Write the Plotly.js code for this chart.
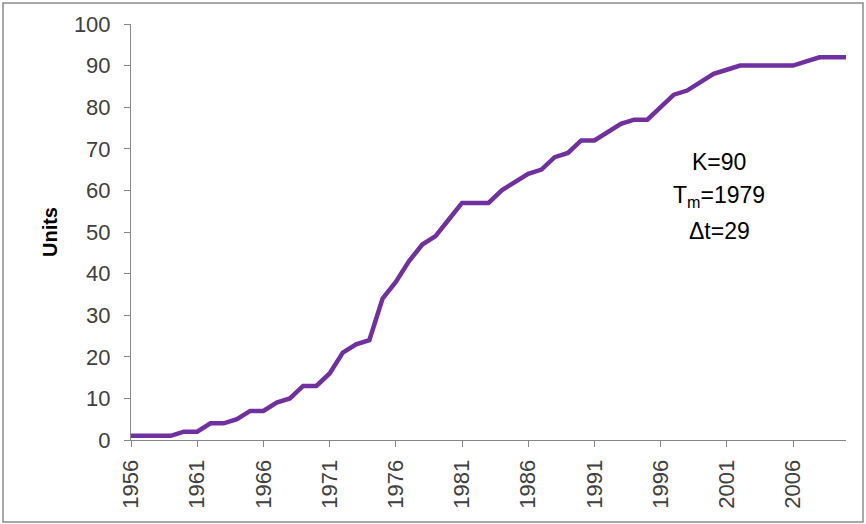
<!DOCTYPE html>
<html>
<head>
<meta charset="utf-8">
<script src="https://cdn.plot.ly/plotly-3.0.1.min.js"></script>
<style>
html,body{margin:0;padding:0;background:#fff;}
#chart{width:866px;height:524px;}
</style>
</head>
<body>
<div id="chart"></div>
<script>
const years = [1956,1957,1958,1959,1960,1961,1962,1963,1964,1965,1966,1967,1968,1969,1970,
  1971,1972,1973,1974,1975,1976,1977,1978,1979,1980,1981,1982,1983,1984,1985,1986,1987,1988,1989,1990,
  1991,1992,1993,1994,1995,1996,1997,1998,1999,2000,2001,2002,2003,2004,2005,2006,2007,2008,2009,2010];
const units = [1,1,1,1,2,2,4,4,5,7,7,9,10,13,13,
  16,21,23,24,34,38,43,47,49,53,57,57,57,60,62,64,65,68,69,72,
  72,74,76,77,77,80,83,84,86,88,89,90,90,90,90,90,91,92,92,92];
const tickYears = [1956,1961,1966,1971,1976,1981,1986,1991,1996,2001,2006];
const yTicks = [0,10,20,30,40,50,60,70,80,90,100];
const annotationLines = ["K=90","T<sub>m</sub>=1979","Δt=29"];

const font = "Liberation Sans, Arial, sans-serif";
const L = 131, R = 20, T = 24, B = 84, W = 866, H = 524;
const pw = W - L - R, ph = H - T - B;
const annoCentersPx = [162, 196, 231];

Plotly.newPlot('chart', [{
  x: years, y: units, type: 'scatter', mode: 'lines',
  line: {color: '#7030A0', width: 4.5}, hoverinfo: 'x+y'
}], {
  width: W, height: H,
  margin: {l: L, r: R, t: T, b: B, pad: 0},
  paper_bgcolor: '#fff', plot_bgcolor: '#fff',
  showlegend: false,
  font: {family: font, color: '#404040'},
  xaxis: {
    range: [1956, 2010], tickmode: 'array', tickvals: tickYears, ticktext: tickYears.map(String),
    tickangle: -90, ticks: 'outside', ticklen: 6, tickcolor: '#868686', tickwidth: 1,
    showline: true, linecolor: '#868686', linewidth: 1, showgrid: false, zeroline: false,
    tickfont: {size: 22, color: '#404040', family: font}, ticklabelstandoff: 4
  },
  yaxis: {
    range: [0, 100], tickmode: 'array', tickvals: yTicks,
    ticks: 'outside', ticklen: 6, tickcolor: '#868686', tickwidth: 1,
    showline: true, linecolor: '#868686', linewidth: 1, showgrid: false, zeroline: false,
    tickfont: {size: 22, color: '#404040', family: font}, ticklabelstandoff: 9,
    title: {text: '<b>Units</b>', font: {size: 20, color: '#000', family: font}, standoff: 10}
  },
  annotations: annotationLines.map((t, i) => ({
    xref: 'paper', yref: 'paper', x: (719 - L) / pw, y: 1 - (annoCentersPx[i] - T) / ph,
    xanchor: 'center', yanchor: 'middle', showarrow: false, align: 'center',
    text: t, font: {size: 23, color: '#000', family: font}
  })),
  shapes: [{
    type: 'rect', xref: 'paper', yref: 'paper',
    x0: (3 - L) / pw, x1: (863 - L) / pw, y0: 1 - (522 - T) / ph, y1: 1 + (T - 3) / ph,
    line: {color: '#8c8c8c', width: 1.5}, fillcolor: 'rgba(0,0,0,0)', layer: 'below'
  }]
}, {displayModeBar: false, staticPlot: true});
</script>
</body>
</html>
